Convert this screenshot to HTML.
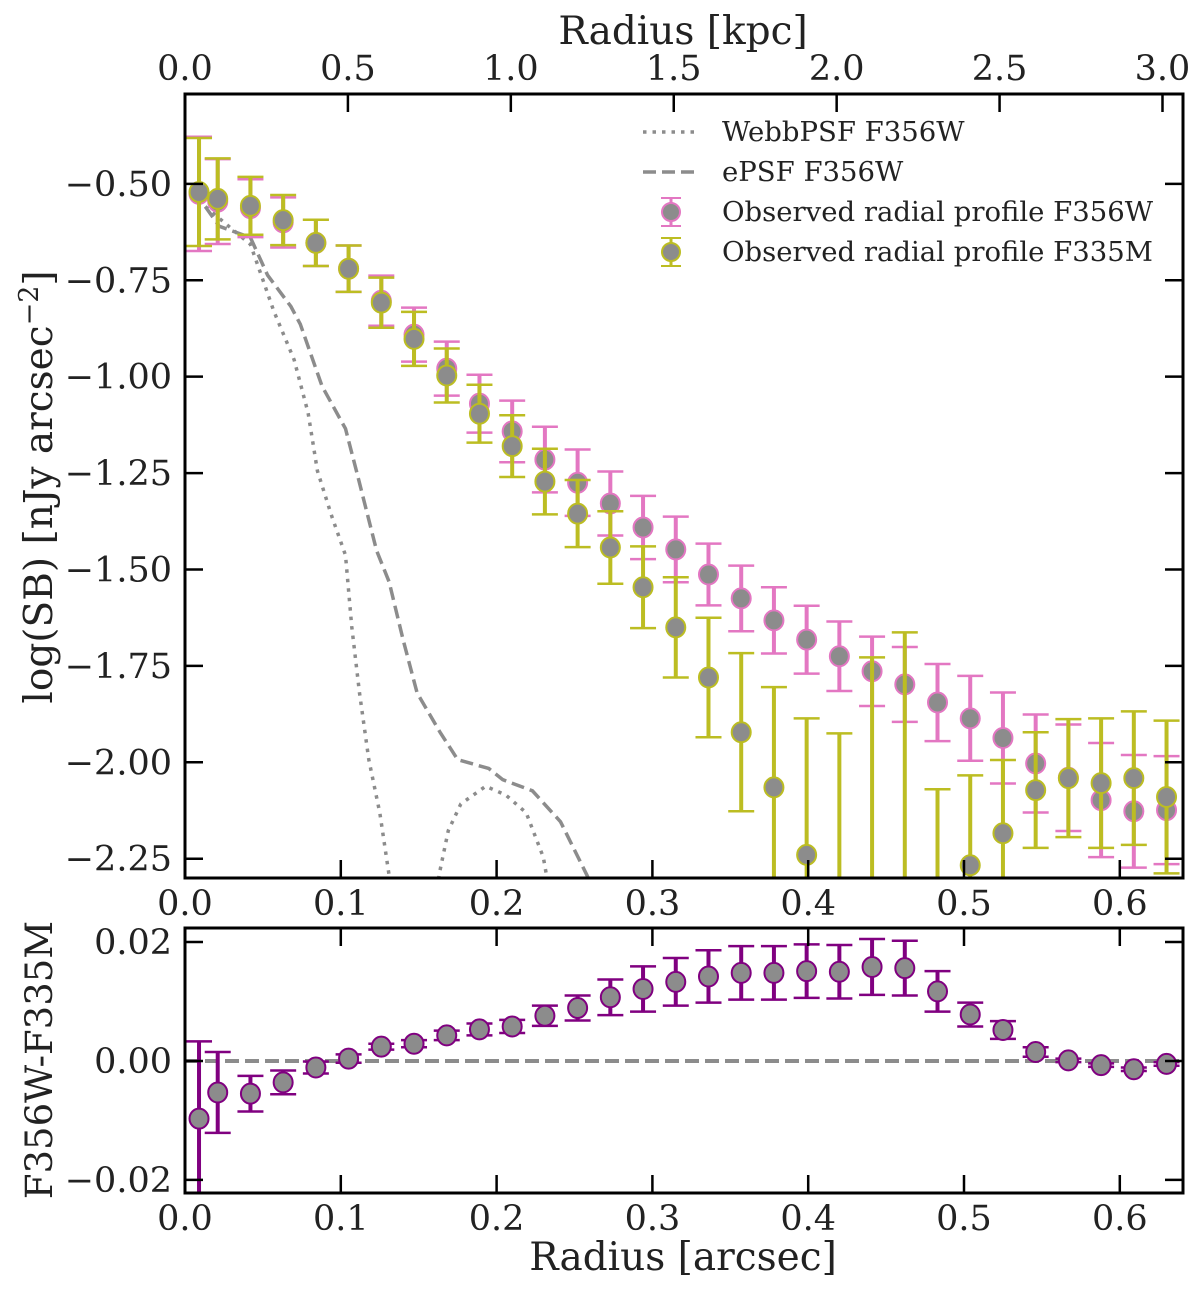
<!DOCTYPE html>
<html><head><meta charset="utf-8"><style>
html,body{margin:0;padding:0;background:#fff;}
svg{display:block;font-family:"DejaVu Serif","Liberation Serif",serif;}
</style></head><body>
<svg id="fig" width="1200" height="1294" viewBox="0 0 1200 1294" xmlns="http://www.w3.org/2000/svg">
<defs>
<clipPath id="clipMain"><rect x="185" y="94" width="998" height="784"/></clipPath>
<clipPath id="clipRes"><rect x="185" y="928" width="998" height="265"/></clipPath>
</defs>
<g id="main"></g>
<g id="res"></g>
</svg>
<script>
const radius = [0.009,0.021,0.042,0.063,0.084,0.105,0.126,0.147,0.168,0.189,0.210,0.231,0.252,0.273,0.294,0.315,0.336,0.357,0.378,0.399,0.420,0.441,0.462,0.483,0.504,0.525,0.546,0.567,0.588,0.609,0.630];
const sbF356W = [-0.526,-0.546,-0.563,-0.600,-0.653,-0.720,-0.803,-0.891,-0.979,-1.070,-1.142,-1.215,-1.275,-1.329,-1.391,-1.448,-1.513,-1.575,-1.632,-1.682,-1.725,-1.764,-1.798,-1.845,-1.886,-1.937,-2.003,-2.040,-2.098,-2.127,-2.124];
const errF356W = [0.148,0.11,0.075,0.065,0.06,0.06,0.065,0.07,0.07,0.075,0.08,0.085,0.086,0.083,0.082,0.085,0.08,0.085,0.086,0.088,0.09,0.09,0.097,0.10,0.11,0.118,0.127,0.138,0.148,0.146,0.14];
const sbF335M = [-0.521,-0.539,-0.557,-0.594,-0.653,-0.720,-0.808,-0.902,-0.997,-1.096,-1.180,-1.272,-1.355,-1.443,-1.546,-1.650,-1.780,-1.922,-2.065,-2.240,-2.450,-2.600,-2.500,-2.700,-2.267,-2.184,-2.072,-2.041,-2.054,-2.041,-2.090];
const errF335M = [0.14,0.105,0.075,0.065,0.06,0.06,0.065,0.07,0.07,0.075,0.08,0.085,0.087,0.094,0.106,0.13,0.155,0.205,0.26,0.354,0.525,0.872,0.837,0.63,0.233,0.19,0.15,0.153,0.168,0.173,0.198];
const colorDiff = [-0.0097,-0.0053,-0.0055,-0.0036,-0.0011,0.0004,0.0024,0.0029,0.0043,0.0053,0.0058,0.0076,0.0089,0.0107,0.0121,0.0133,0.0142,0.0148,0.0148,0.0151,0.0150,0.0158,0.0156,0.0117,0.0078,0.0052,0.0015,0.0001,-0.0007,-0.0014,-0.0005];
const colorErr = [0.013,0.0068,0.003,0.002,0.001,0.0007,0.0005,0.0006,0.0008,0.001,0.0011,0.0017,0.0021,0.003,0.0038,0.004,0.0044,0.0045,0.0045,0.0045,0.0045,0.0047,0.0046,0.0034,0.002,0.0015,0.0008,0.0003,0.0003,0.0003,0.0003];
const webbX = [0.013,0.042,0.048,0.057,0.070,0.079,0.085,0.094,0.103,0.107,0.112,0.118,0.125,0.131,0.140];
const webbY = [-0.559,-0.657,-0.726,-0.830,-0.956,-1.094,-1.244,-1.360,-1.463,-1.647,-1.820,-1.993,-2.131,-2.293,-2.5];
const webb2X = [0.158,0.163,0.169,0.177,0.193,0.206,0.219,0.230,0.232,0.240];
const webb2Y = [-2.5,-2.293,-2.177,-2.108,-2.062,-2.085,-2.131,-2.246,-2.293,-2.5];
const epsfX = [0.013,0.022,0.042,0.053,0.068,0.074,0.088,0.103,0.110,0.123,0.131,0.140,0.149,0.164,0.175,0.195,0.204,0.223,0.241,0.258,0.27];
const epsfY = [-0.559,-0.610,-0.639,-0.737,-0.818,-0.864,-1.025,-1.135,-1.244,-1.451,-1.532,-1.682,-1.820,-1.924,-1.993,-2.016,-2.045,-2.074,-2.154,-2.293,-2.4];
const xTicks = [0.0,0.1,0.2,0.3,0.4,0.5,0.6];
const xTickLabels = ["0.0","0.1","0.2","0.3","0.4","0.5","0.6"];
const kpcTicks = [0.0,0.5,1.0,1.5,2.0,2.5,3.0];
const kpcTickLabels = ["0.0","0.5","1.0","1.5","2.0","2.5","3.0"];
const yTicks = [-0.5,-0.75,-1.0,-1.25,-1.5,-1.75,-2.0,-2.25];
const yTickLabels = ["\u22120.50","\u22120.75","\u22121.00","\u22121.25","\u22121.50","\u22121.75","\u22122.00","\u22122.25"];
const rTicks = [0.02,0.0,-0.02];
const rTickLabels = ["0.02","0.00","\u22120.02"];

const NS="http://www.w3.org/2000/svg";
const L=185,R=1183,T1=94,B1=878,T2=928,B2=1193;
const xMax=(R-L)/1558;
const kpcPerArcsec=3.0/0.6274;
const TF=35, AF=39, LF=27.5;
function X(v){return L+v/xMax*(R-L);}
function Y1(v){return T1+(-0.267-v)/(-0.267+2.3)*(B1-T1);}
function Y2(v){return T2+(0.02235-v)/(0.04455)*(B2-T2);}
function mk(tag,at,parent){const e=document.createElementNS(NS,tag);for(const k in at)e.setAttribute(k,at[k]);parent.appendChild(e);return e;}
const main=document.getElementById('main'), res=document.getElementById('res');

function line(p,x1,y1,x2,y2,st,w){return mk('line',{x1:x1,y1:y1,x2:x2,y2:y2,stroke:st,'stroke-width':w},p);}
function txt(p,x,y,s,size,anchor){const t=mk('text',{x:x,y:y,'font-size':size,'text-anchor':anchor||'middle',fill:'#222'},p);t.textContent=s;return t;}

const gm=mk('g',{'clip-path':'url(#clipMain)'},main);


function poly(p,xs,ys,dash,name){const pts=xs.map((x,i)=>X(x).toFixed(1)+','+Y1(ys[i]).toFixed(1)).join(' ');const e=mk('polyline',{points:pts,fill:'none',stroke:'#8c8c8c','stroke-width':3.5,'stroke-dasharray':dash},p);}
poly(gm,webbX,webbY,'3.5,6','webbpsf-line');
poly(gm,webb2X,webb2Y,'3.5,6','webbpsf-line-lobe');
poly(gm,epsfX,epsfY,'13,6','epsf-line');

function errSeries(p,xs,ys,es,yf,col,name){
  const g=mk('g',{},p);
  
  
  xs.forEach((x,i)=>{
    const cx=X(x),y0=yf(ys[i]+es[i]),y1=yf(ys[i]-es[i]),cy=yf(ys[i]);
    line(g,cx,y0,cx,y1,col,4);
    line(g,cx-13,y0,cx+13,y0,col,2.5);
    line(g,cx-13,y1,cx+13,y1,col,2.5);
    const c=mk('ellipse',{cx:cx,cy:cy,rx:9.5,ry:10,fill:'#8c8c8c',stroke:col,'stroke-width':2},g);
    
    
  });
}
errSeries(gm,radius,sbF356W,errF356W,Y1,'#e377c2','series-f356w');
errSeries(gm,radius,sbF335M,errF335M,Y1,'#bcbd22','series-f335m');

mk('rect',{x:L,y:T1,width:R-L,height:B1-T1,fill:'none',stroke:'#000','stroke-width':3},main);
xTicks.forEach((v,i)=>{const x=X(v);line(main,x,B1,x,B1-18,'#000',2.5);const t=txt(main,x,915,xTickLabels[i],TF);});
kpcTicks.forEach((v,i)=>{const x=X(v/kpcPerArcsec);line(main,x,T1,x,T1+18,'#000',2.5);const t=txt(main,x,80,kpcTickLabels[i],TF);});
yTicks.forEach((v,i)=>{const y=Y1(v);line(main,L,y,L+18,y,'#000',2.5);line(main,R,y,R-18,y,'#000',2.5);const t=txt(main,172,y+12,yTickLabels[i],TF,'end');});
let t=txt(main,683,44,'Radius [kpc]',AF);
t=mk('text',{x:0,y:0,'font-size':AF,'text-anchor':'middle',fill:'#222',transform:'translate(52,487) rotate(-90)'},main);
t.innerHTML='log(SB) [nJy arcsec<tspan dy="-14" font-size="27">\u22122</tspan><tspan dy="14">]</tspan>';


const lg=mk('g',{},main);


line(lg,643,132,700,132,'#8c8c8c',3.5).setAttribute('stroke-dasharray','3.5,6');
line(lg,643,172,700,172,'#8c8c8c',3.5).setAttribute('stroke-dasharray','13,6');
[['#e377c2',212],['#bcbd22',252]].forEach(([c,y])=>{line(lg,671,y-14,671,y+14,c,3);line(lg,661,y-14,681,y-14,c,2);line(lg,661,y+14,681,y+14,c,2);mk('circle',{cx:671,cy:y,r:9,fill:'#8c8c8c',stroke:c,'stroke-width':2},lg);});
['WebbPSF F356W','ePSF F356W','Observed radial profile F356W','Observed radial profile F335M'].forEach((s,i)=>{const e=txt(lg,722,141+40*i,s,LF,'start');});

const gr=mk('g',{'clip-path':'url(#clipRes)'},res);


const zl=line(gr,L,Y2(0),R,Y2(0),'#8c8c8c',4);zl.setAttribute('stroke-dasharray','14,6');

errSeries(gr,radius,colorDiff,colorErr,Y2,'#800080','series-color-difference');
mk('rect',{x:L,y:T2,width:R-L,height:B2-T2,fill:'none',stroke:'#000','stroke-width':3},res);
xTicks.forEach((v,i)=>{const x=X(v);line(res,x,B2,x,B2-18,'#000',2.5);line(res,x,T2,x,T2+18,'#000',2.5);const e=txt(res,x,1230,xTickLabels[i],TF);});
rTicks.forEach((v,i)=>{const y=Y2(v);line(res,L,y,L+18,y,'#000',2.5);line(res,R,y,R-18,y,'#000',2.5);const e=txt(res,172,y+12,rTickLabels[i],TF,'end');});
t=txt(res,683,1270,'Radius [arcsec]',AF);
t=mk('text',{x:0,y:0,'font-size':37,'text-anchor':'middle',fill:'#222',transform:'translate(52,1060) rotate(-90)'},res);
t.textContent='F356W-F335M';

</script>
</body></html>
